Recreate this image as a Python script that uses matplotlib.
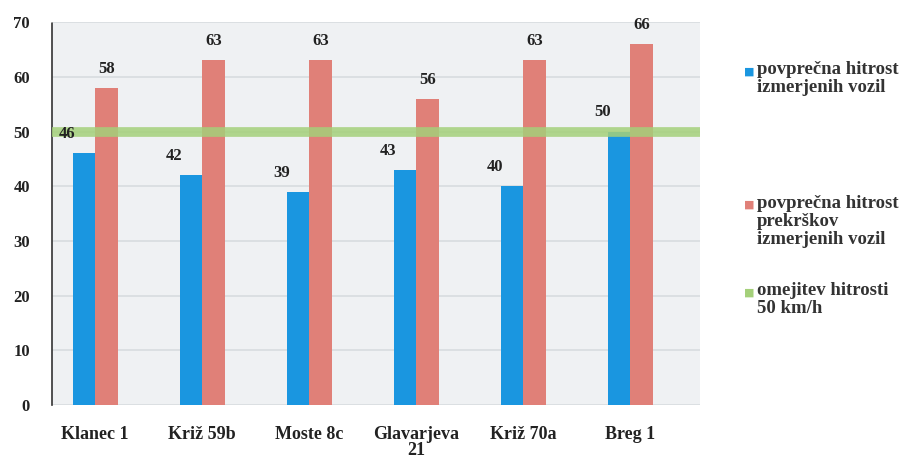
import numpy as np
import matplotlib.pyplot as plt
from matplotlib.patches import Patch

# ─── Data ────────────────────────────────────────────────────────────────────
LOCATIONS = ["Klanec 1", "Križ 59b", "Moste 8c", "Glavarjeva\n21", "Križ 70a", "Breg 1"]
AVG_SPEED = [46, 42, 39, 43, 40, 50]
AVG_OFFENCE_SPEED = [58, 63, 63, 56, 63, 66]
SPEED_LIMIT = 50

LEGEND_LABELS = ["povprečna hitrost\nizmerjenih vozil",
                 "povprečna hitrost\nprekrškov\nizmerjenih vozil",
                 "omejitev hitrosti\n50 km/h"]

BLUE = "#1a96e0"
RED = "#e08078"
GREEN = "#a4d07a"

plt.rcParams["font.family"] = ["Liberation Serif", "DejaVu Serif"]
plt.rcParams["font.weight"] = "bold"


def main():
    fig = plt.figure(figsize=(9.17, 4.61), dpi=100)
    ax = fig.add_axes([0.057, 0.121, 0.706, 0.831])

    x = np.arange(len(LOCATIONS))
    w = 0.21

    ax.set_facecolor("#eff1f3")
    ax.set_axisbelow(True)
    ax.yaxis.grid(True, color="#d8dcdf", linewidth=1.2)

    ax.bar(x - w / 2, AVG_SPEED, w, color=BLUE, zorder=2)
    ax.bar(x + w / 2, AVG_OFFENCE_SPEED, w, color=RED, zorder=2)
    ax.axhline(SPEED_LIMIT, color=GREEN, linewidth=7, alpha=0.85, zorder=3)

    # value labels
    for xi, v in zip(x, AVG_SPEED):
        ax.text(xi - 0.26, v + 3.5, str(v), ha="center", va="center",
                fontsize=12, fontweight="bold", color="#222222", zorder=4)
    for xi, v in zip(x, AVG_OFFENCE_SPEED):
        ax.text(xi + w / 2, v + 3.5, str(v), ha="center", va="center",
                fontsize=12, fontweight="bold", color="#222222", zorder=4)

    ax.set_xlim(-0.4, 5.65)
    ax.set_ylim(0, 70)
    ax.set_yticks(range(0, 71, 10))
    ax.set_xticks(x)
    ax.set_xticklabels(LOCATIONS, fontsize=13, fontweight="bold", color="#222222",
                       linespacing=0.9)
    ax.tick_params(axis="y", labelsize=12, length=0, pad=16, colors="#222222")
    ax.tick_params(axis="x", length=0, pad=15)

    for s in ["top", "right", "bottom"]:
        ax.spines[s].set_visible(False)
    ax.spines["left"].set_color("#333333")
    ax.spines["left"].set_linestyle((0, (4, 1)))
    ax.spines["left"].set_linewidth(1.2)

    # legend placed manually to match the layout
    handles = [Patch(color=BLUE), Patch(color=RED), Patch(color=GREEN)]
    ys = [0.868, 0.578, 0.388]
    for h, lab, yy in zip(handles, LEGEND_LABELS, ys):
        fig.text(0.811, yy - 0.012, "■", color=h.get_facecolor(), fontsize=8,
                 ha="left", va="top", family="DejaVu Sans")
        fig.text(0.825, yy, lab, fontsize=13.5, fontweight="bold",
                 color="#333333", ha="left", va="top", linespacing=1.1)

    fig.savefig("out.png", dpi=100)
    plt.close(fig)


if __name__ == "__main__":
    main()
